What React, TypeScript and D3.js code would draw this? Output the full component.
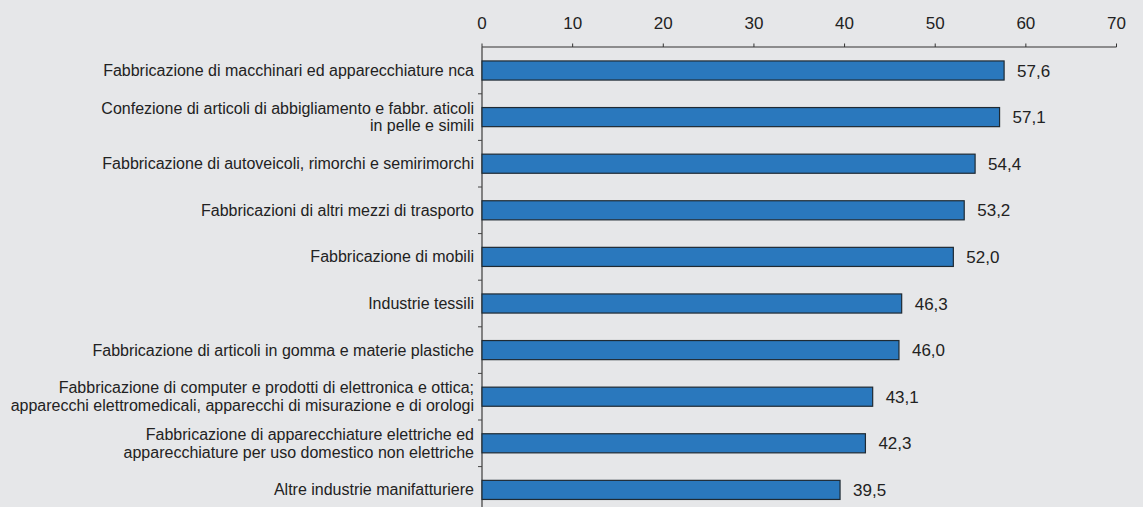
import React, { useEffect, useRef } from "react";
import * as d3 from "d3";

const categories: string[][] = [
  ["Fabbricazione di macchinari ed apparecchiature nca"],
  ["Confezione di articoli di abbigliamento e fabbr. aticoli", "in pelle e simili"],
  ["Fabbricazione di autoveicoli, rimorchi e semirimorchi"],
  ["Fabbricazioni di altri mezzi di trasporto"],
  ["Fabbricazione di mobili"],
  ["Industrie tessili"],
  ["Fabbricazione di articoli in gomma e materie plastiche"],
  ["Fabbricazione di computer e prodotti di elettronica e ottica;", "apparecchi elettromedicali, apparecchi di misurazione e di orologi"],
  ["Fabbricazione di apparecchiature elettriche ed", "apparecchiature per uso domestico non elettriche"],
  ["Altre industrie manifatturiere"],
];
const values: number[] = [57.6, 57.1, 54.4, 53.2, 52.0, 46.3, 46.0, 43.1, 42.3, 39.5];
const xTicks: number[] = [0, 10, 20, 30, 40, 50, 60, 70];

const W = 1143;
const H = 507;

export default function App() {
  const ref = useRef<SVGSVGElement>(null);
  useEffect(() => {
    const svg = d3.select(ref.current!);
    svg.selectAll("*").remove();
    const font = "'Liberation Sans', Arial, Helvetica, sans-serif";
    svg.append("rect").attr("width", W).attr("height", H).attr("fill", "#e6e7e9");

    const x = d3.scaleLinear().domain([0, 70]).range([482, 1116.5]);
    const idx = categories.map((_, i) => String(i));
    const y = d3.scaleBand().domain(idx).range([47.2, 47.2 + 46.6 * 10]).paddingInner(0.59).paddingOuter(0.295);
    const band = d3.scaleBand().domain(idx).range([47.2, 47.2 + 46.6 * 10]);

    const g = svg.append("g").attr("font-family", font);
    // top axis
    g.append("line").attr("x1", x(0)).attr("x2", x(70)).attr("y1", 47).attr("y2", 47)
      .attr("stroke", "#333").attr("stroke-width", 1.2);
    xTicks.forEach((t) => {
      g.append("line").attr("x1", x(t)).attr("x2", x(t)).attr("y1", 43.5).attr("y2", 47)
        .attr("stroke", "#333").attr("stroke-width", 1);
      g.append("text").attr("x", x(t)).attr("y", 28.5).attr("text-anchor", "middle")
        .attr("font-size", 17).attr("fill", "#222").text(String(t));
    });

    // left axis
    g.append("line").attr("x1", x(0)).attr("x2", x(0)).attr("y1", 47).attr("y2", H)
      .attr("stroke", "#555").attr("stroke-width", 1.4);
    idx.forEach((k, i) => {
      if (i === 0) return;
      const yy = band(k)!;
      g.append("line").attr("x1", x(0) - 4).attr("x2", x(0)).attr("y1", yy).attr("y2", yy)
        .attr("stroke", "#444").attr("stroke-width", 1);
    });

    // bars
    idx.forEach((k, i) => {
      const v = values[i];
      g.append("rect").attr("x", x(0)).attr("y", y(k)!).attr("width", x(v) - x(0))
        .attr("height", y.bandwidth()).attr("fill", "#2a78bd").attr("stroke", "#1f2a33").attr("stroke-width", 1.2);
      g.append("text").attr("x", x(v) + 13).attr("y", y(k)! + y.bandwidth() / 2 + 6)
        .attr("font-size", 17).attr("fill", "#222").text(d3.format(".1f")(v).replace(".", ","));
      const cy = band(k)! + band.bandwidth() / 2;
      const lines = categories[i];
      const lh = 17.5;
      const t = g.append("text").attr("text-anchor", "end").attr("font-size", 16).attr("fill", "#222");
      lines.forEach((ln, j) => {
        t.append("tspan").attr("x", 474)
          .attr("y", cy + 5.5 + (j - (lines.length - 1) / 2) * lh).text(ln);
      });
    });
  }, []);
  return (
    <svg ref={ref} width={W} height={H} style={{ position: "absolute", left: 0, top: 0, display: "block" }} />
  );
}
